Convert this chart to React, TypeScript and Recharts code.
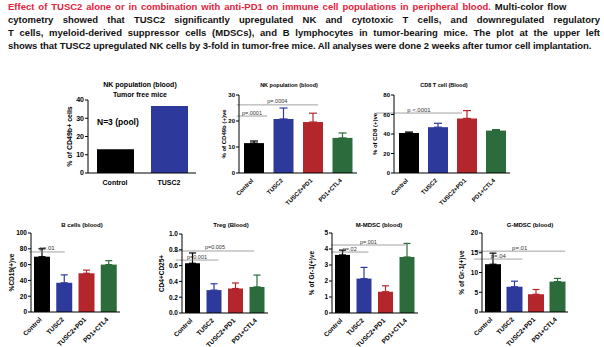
import React from "react";
import { BarChart, Bar, XAxis, YAxis, ErrorBar, ReferenceLine, ReferenceDot, Cell } from "recharts";

const FONT = '"Liberation Sans", Arial, sans-serif';

const groups = ["Control", "TUSC2", "TUSC2+PD1", "PD1+CTL4"];
const colors = ["#000000", "#2E3A9B", "#B2262C", "#2C6B3B"];

// tumor-free mice
const freeGroups = ["Control", "TUSC2"];
const freeNK = [13, 36.7];

// tumor-bearing mice, mean and upper error (SEM)
const nkMean = [11.5, 20.8, 19.6, 13.5];
const nkErr = [0.8, 4.2, 3.4, 1.9];
const cd8Mean = [41, 47, 56, 43.5];
const cd8Err = [1, 4, 8, 1];
const bMean = [70, 37, 49, 60];
const bErr = [10, 10, 4, 5];
const tregMean = [0.63, 0.29, 0.31, 0.33];
const tregErr = [0.13, 0.08, 0.07, 0.15];
const mmdscMean = [3.63, 2.15, 1.33, 3.5];
const mmdscErr = [0.3, 0.7, 0.37, 0.85];
const gmdscMean = [12.1, 6.4, 4.5, 7.7];
const gmdscErr = [2.8, 1.4, 1.2, 0.8];

type Sig = { label: string; from: number; to: number; y: number };

// significance brackets: x in category index units, y in data units
const nkSigs: Sig[] = [
  { label: "p=.0004", from: -0.06, to: 2.01, y: 26.2 },
  { label: "p=.0001", from: -0.06, to: 0.72, y: 21.9 },
];
const cd8Sigs: Sig[] = [{ label: "p <.0001", from: -0.47, to: 1.76, y: 61.5 }];
const bSigs: Sig[] = [{ label: "p=.01", from: -0.06, to: 1.14, y: 76 }];
const tregSigs: Sig[] = [
  { label: "p=0.005", from: -0.22, to: 2.52, y: 0.785 },
  { label: "p=0.001", from: -0.22, to: 1.27, y: 0.67 },
];
const mmdscSigs: Sig[] = [
  { label: "p=.001", from: -0.03, to: 2.57, y: 4.25 },
  { label: "p=.02", from: -0.03, to: 1.27, y: 3.81 },
];
const gmdscSigs: Sig[] = [
  { label: "p=.01", from: -0.27, to: 2.9, y: 15.4 },
  { label: "p=.04", from: -0.27, to: 1.41, y: 13.4 },
];

const captionRed =
  "Effect of TUSC2 alone or in combination with anti-PD1 on immune cell populations in peripheral blood.";
const captionLines = [
  " Multi-color flow",
  "cytometry showed that TUSC2 significantly upregulated NK and cytotoxic T cells, and downregulated regulatory",
  "T cells, myeloid-derived suppressor cells (MDSCs), and B lymphocytes in tumor-bearing mice. The plot at the upper left",
  "shows that TUSC2 upregulated NK cells by 3-fold in tumor-free mice. All analyses were done 2 weeks after tumor cell implantation.",
];

function Title({ x, y, lines, fs }: { x: number; y: number; lines: string[]; fs: number }) {
  return (
    <div
      style={{
        position: "absolute",
        left: x - 100,
        top: y - fs * 0.65,
        width: 200,
        textAlign: "center",
        fontFamily: FONT,
        fontWeight: 700,
        fontSize: fs,
        lineHeight: `${fs * 1.35}px`,
        color: "#000",
      }}
    >
      {lines.map((l) => (
        <div key={l}>{l}</div>
      ))}
    </div>
  );
}

function RotTick(props: any) {
  const { x, y, payload, fs } = props;
  return (
    <text
      transform={`translate(${x},${y + 6}) rotate(-45)`}
      textAnchor="end"
      fontSize={fs}
      fontWeight={700}
      fontFamily={FONT}
      fill="#000"
    >
      {payload.value}
    </text>
  );
}

interface PanelProps {
  x0: number;
  x1: number;
  y0: number;
  y1: number;
  max: number;
  ticks: number[];
  means: number[];
  errs: number[];
  sigs: Sig[];
  yLabel: string;
  labelX: number;
  barSize: number;
  cap: number;
  fs: number;
  sigFs: number;
  decimals?: number;
}

function Panel(p: PanelProps) {
  const L = 50, T = 12, R = 6, B = 50;
  const left = p.x0 - L;
  const top = p.y0 - T;
  const width = p.x1 - p.x0 + L + R;
  const height = p.y1 - p.y0 + T + B;
  const data = groups.map((g, gi) => {
    const row: any = { name: g };
    row[`v${gi}`] = p.means[gi];
    row[`e${gi}`] = [0, p.errs[gi]];
    return row;
  });
  return (
    <div style={{ position: "absolute", left, top }}>
      <BarChart
        width={width}
        height={height}
        data={data}
        margin={{ top: T, right: R, left: 0, bottom: 0 }}
        barCategoryGap={0}
      >
        <XAxis
          dataKey="name"
          height={B}
          interval={0}
          tickLine={false}
          tickSize={0}
          axisLine={{ stroke: "#000", strokeWidth: 1 }}
          tick={<RotTick fs={p.fs} />}
        />
        <XAxis xAxisId="n" type="number" domain={[-0.5, 3.5]} hide allowDataOverflow />
        <YAxis
          width={L}
          domain={[0, p.max]}
          ticks={p.ticks}
          interval={0}
          allowDataOverflow
          tickSize={3}
          tickMargin={1}
          axisLine={{ stroke: "#000", strokeWidth: 1 }}
          tickLine={{ stroke: "#000" }}
          tickFormatter={(v: number) => (p.decimals ? v.toFixed(p.decimals) : String(v))}
          tick={{ fontSize: p.fs, fontWeight: 700, fill: "#000", fontFamily: FONT }}
          label={{
            value: p.yLabel,
            angle: -90,
            position: "insideLeft",
            offset: p.labelX - left,
            style: { textAnchor: "middle", fontSize: p.fs, fontWeight: 700, fill: "#000", fontFamily: FONT },
          }}
        />
        {groups.map((g, gi) => (
          <Bar
            key={g}
            dataKey={`v${gi}`}
            stackId="s"
            fill={colors[gi]}
            barSize={p.barSize}
            isAnimationActive={false}
          >
            <ErrorBar
              dataKey={`e${gi}`}
              direction="y"
              width={p.cap}
              stroke={colors[gi]}
              strokeWidth={1.2}
              isAnimationActive={false}
            />
          </Bar>
        ))}
        {p.sigs.map((s) => (
          <ReferenceLine
            key={s.label}
            xAxisId="n"
            ifOverflow="visible"
            segment={[
              { x: s.from, y: s.y },
              { x: s.to, y: s.y },
            ]}
            stroke="#8a8a8a"
            strokeWidth={0.8}
          />
        ))}
        {p.sigs.map((s) => (
          <ReferenceDot
            key={`${s.label}-t`}
            xAxisId="n"
            x={(s.from + s.to) / 2}
            y={s.y}
            r={0}
            stroke="none"
            fill="none"
            ifOverflow="visible"
            label={{
              value: s.label,
              position: "top",
              offset: 1.5,
              fontSize: p.sigFs,
              fill: "#333",
              fontFamily: FONT,
            }}
          />
        ))}
      </BarChart>
    </div>
  );
}

function FreePanel() {
  const x0 = 88, x1 = 196, y0 = 100, y1 = 173;
  const L = 50, T = 12, R = 6, B = 30;
  const left = x0 - L;
  const top = y0 - T;
  const data = freeGroups.map((g, i) => ({ name: g, v: freeNK[i], c: colors[i] }));
  return (
    <div style={{ position: "absolute", left, top }}>
      <BarChart
        width={x1 - x0 + L + R}
        height={y1 - y0 + T + B}
        data={data}
        margin={{ top: T, right: R, left: 0, bottom: 0 }}
      >
        <XAxis
          dataKey="name"
          height={B}
          interval={0}
          tickLine={false}
          tickSize={0}
          axisLine={{ stroke: "#000" }}
          tick={(t: any) => (
            <text
              x={t.x}
              y={t.y + 10}
              textAnchor="middle"
              fontSize={7}
              fontWeight={700}
              fontFamily={FONT}
              fill="#000"
            >
              {t.payload.value}
            </text>
          )}
        />
        <YAxis
          width={L}
          domain={[0, 40]}
          ticks={[0, 10, 20, 30, 40]}
          interval={0}
          tickSize={3}
          tickMargin={1}
          axisLine={{ stroke: "#000" }}
          tickLine={{ stroke: "#000" }}
          tick={{ fontSize: 7, fontWeight: 700, fill: "#000", fontFamily: FONT }}
          label={{
            value: "% of CD49b+ cells",
            angle: -90,
            position: "insideLeft",
            offset: 70 - left,
            style: { textAnchor: "middle", fontSize: 7, fontWeight: 700, fill: "#000", fontFamily: FONT },
          }}
        />
        <Bar dataKey="v" barSize={37} isAnimationActive={false}>
          {data.map((d) => (
            <Cell key={d.name} fill={d.c} />
          ))}
        </Bar>
      </BarChart>
    </div>
  );
}

const firstLine: React.CSSProperties = {
  textAlign: "left",
  whiteSpace: "nowrap",
  wordSpacing: 1.3,
  height: 13,
};
const justLine: React.CSSProperties = {
  textAlign: "justify",
  textAlignLast: "justify",
  height: 13,
};
const lastLine: React.CSSProperties = {
  textAlign: "left",
  whiteSpace: "nowrap",
  letterSpacing: -0.05,
  height: 13,
};

export default function App() {
  return (
    <div
      style={{
        position: "absolute",
        left: 0,
        top: 0,
        width: 604,
        height: 347,
        background: "#fff",
        overflow: "hidden",
        fontFamily: FONT,
      }}
    >
      <div
        style={{
          position: "absolute",
          left: 8,
          top: 0,
          width: 592,
          fontSize: 9.5,
          lineHeight: "13px",
          fontWeight: 700,
          color: "#111",
        }}
      >
        <div style={firstLine}>
          <span style={{ color: "#E2233B" }}>{captionRed}</span>
          {captionLines[0]}
        </div>
        <div style={justLine}>{captionLines[1]}</div>
        <div style={justLine}>{captionLines[2]}</div>
        <div style={lastLine}>{captionLines[3]}</div>
      </div>

      <FreePanel />
      <Title x={140} y={85} lines={["NK population (blood)", "Tumor free mice"]} fs={7} />
      <div
        style={{
          position: "absolute",
          left: 97,
          top: 117,
          fontSize: 8.5,
          fontWeight: 700,
          color: "#000",
          whiteSpace: "nowrap",
        }}
      >
        N=3 (pool)
      </div>

      <Panel
        x0={239} x1={357} y0={95} y1={173} max={30} ticks={[0, 10, 20, 30]}
        means={nkMean} errs={nkErr} sigs={nkSigs} yLabel="% of CD49b (+)ve" labelX={224}
        barSize={20} cap={4} fs={6} sigFs={5.5}
      />
      <Title x={289} y={86} lines={["NK population (blood)"]} fs={5.5} />

      <Panel
        x0={394} x1={510} y0={95} y1={173} max={80} ticks={[0, 20, 40, 60, 80]}
        means={cd8Mean} errs={cd8Err} sigs={cd8Sigs} yLabel="% of CD8 (+)ve" labelX={375}
        barSize={20} cap={4} fs={6} sigFs={6}
      />
      <Title x={444} y={86} lines={["CD8 T cell (Blood)"]} fs={5.5} />

      <Panel
        x0={31} x1={120} y0={233} y1={312} max={100} ticks={[0, 20, 40, 60, 80, 100]}
        means={bMean} errs={bErr} sigs={bSigs} yLabel="%CD19(+)ve" labelX={12}
        barSize={16} cap={3.5} fs={6.5} sigFs={6}
      />
      <Title x={82} y={225} lines={["B cells (blood)"]} fs={6} />

      <Panel
        x0={182} x1={268} y0={234} y1={313} max={1} ticks={[0, 0.2, 0.4, 0.6, 0.8, 1]}
        means={tregMean} errs={tregErr} sigs={tregSigs} yLabel="CD4+CD25+" labelX={162}
        barSize={15} cap={3.5} fs={6.5} sigFs={5.5} decimals={1}
      />
      <Title x={231} y={225} lines={["Treg (Blood)"]} fs={6} />

      <Panel
        x0={332} x1={418} y0={233} y1={313} max={5} ticks={[0, 1, 2, 3, 4, 5]}
        means={mmdscMean} errs={mmdscErr} sigs={mmdscSigs} yLabel="% of Gr-1(+)ve" labelX={312}
        barSize={15} cap={3.5} fs={6.5} sigFs={5.5}
      />
      <Title x={379} y={225} lines={["M-MDSC (blood)"]} fs={6} />

      <Panel
        x0={482} x1={568} y0={233} y1={312} max={20} ticks={[0, 5, 10, 15, 20]}
        means={gmdscMean} errs={gmdscErr} sigs={gmdscSigs} yLabel="% of Gr-1(+)ve" labelX={462}
        barSize={16} cap={3.5} fs={6.5} sigFs={6}
      />
      <Title x={530} y={225} lines={["G-MDSC (blood)"]} fs={6} />
    </div>
  );
}
